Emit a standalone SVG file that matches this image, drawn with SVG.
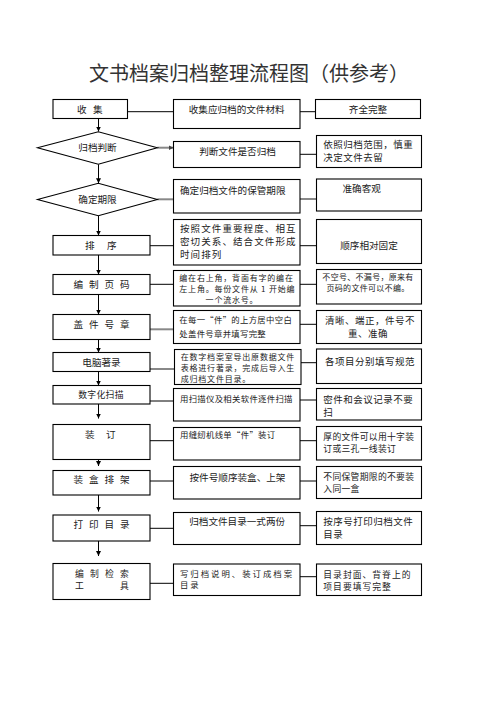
<svg xmlns="http://www.w3.org/2000/svg" width="496" height="702" viewBox="0 0 496 702">
<style>
text{font-family:"Noto Sans CJK SC","Noto Sans",sans-serif;fill:#222}
.t{font-size:20px;fill:#333}
.b{fill:#fff;stroke:#000;stroke-width:1.1}
.c{stroke:#000;stroke-width:1;fill:none}
.g{stroke:#888;stroke-width:2;fill:none}
.s10{font-size:9.6px}
.s95{font-size:9.5px;letter-spacing:0.5px}
.s9{font-size:8.8px;letter-spacing:0.3px}
.s85{font-size:8.4px;letter-spacing:0.3px}
.s8{font-size:8px;letter-spacing:0.8px}
.w1{letter-spacing:1.1px}
.w2{letter-spacing:2px}
.m{text-anchor:middle}
</style>
<defs>
<marker id="ah" viewBox="0 0 6 6" refX="6" refY="3" markerWidth="5" markerHeight="5" markerUnits="userSpaceOnUse" orient="auto">
<path d="M0,0 L6,3 L0,6 z" fill="#000"/>
</marker>
<marker id="ahg" viewBox="0 0 6 6" refX="6" refY="3" markerWidth="5" markerHeight="5" markerUnits="userSpaceOnUse" orient="auto">
<path d="M0,0 L6,3 L0,6 z" fill="#444"/>
</marker>
</defs>
<rect width="496" height="702" fill="#fff"/>
<text class="t" x="89" y="80.5">文书档案归档整理流程图（供参考）</text>

<g id="connectors">
<line class="c" x1="98.5" y1="118.5" x2="98.5" y2="131.5" marker-end="url(#ah)"/>
<line class="c" x1="98.5" y1="164.3" x2="98.5" y2="183.2" marker-end="url(#ah)"/>
<line class="c" x1="98.5" y1="215.7" x2="98.5" y2="235.5" marker-end="url(#ah)"/>
<line class="c" x1="98.5" y1="255" x2="98.5" y2="274.5" marker-end="url(#ah)"/>
<line class="c" x1="98.5" y1="294.5" x2="98.5" y2="314.5" marker-end="url(#ah)"/>
<line class="c" x1="98.5" y1="339.5" x2="98.5" y2="352.5" marker-end="url(#ah)"/>
<line class="c" x1="98.5" y1="371.5" x2="98.5" y2="385.5" marker-end="url(#ah)"/>
<line class="c" x1="98.5" y1="404" x2="98.5" y2="418.5" marker-end="url(#ah)"/>
<line class="c" x1="98.5" y1="459.5" x2="98.5" y2="466" marker-end="url(#ah)"/>
<line class="c" x1="98.5" y1="495" x2="98.5" y2="511.5" marker-end="url(#ah)"/>
<line class="c" x1="98.5" y1="541" x2="98.5" y2="556" marker-end="url(#ah)"/>

<line class="c" x1="127.5" y1="111.7" x2="173.5" y2="111.7"/>
<line class="g" x1="157.3" y1="147.7" x2="173.5" y2="147.7" marker-end="url(#ahg)"/>
<line class="g" x1="157.3" y1="199.3" x2="173.5" y2="199.3"/>
<line class="c" x1="150" y1="245.7" x2="173.5" y2="245.7"/>
<line class="c" x1="150" y1="284.3" x2="173.5" y2="284.3"/>
<line class="g" x1="150" y1="329.3" x2="173.5" y2="329.3"/>
<line class="g" x1="150" y1="369" x2="174.5" y2="369"/>
<line class="c" x1="150" y1="401" x2="173.5" y2="401"/>
<line class="c" x1="150" y1="440.7" x2="173.5" y2="440.7"/>
<line class="c" x1="150" y1="481" x2="173.5" y2="481"/>
<line class="c" x1="150" y1="528.3" x2="173.5" y2="528.3"/>
<line class="c" x1="150" y1="583.3" x2="173.5" y2="583.3"/>

<line class="c" x1="300" y1="111.7" x2="315.5" y2="111.7"/>
<line class="c" x1="300" y1="154.3" x2="316.5" y2="154.3"/>
<line class="g" x1="300" y1="199" x2="316.5" y2="199"/>
<line class="c" x1="300" y1="245.7" x2="316.5" y2="245.7"/>
<line class="c" x1="300" y1="284.3" x2="316.5" y2="284.3"/>
<line class="c" x1="300" y1="324.3" x2="316.5" y2="324.3"/>
<line class="c" x1="301" y1="362.7" x2="316.5" y2="362.7"/>
<line class="c" x1="300" y1="400" x2="316.5" y2="400"/>
<line class="c" x1="300" y1="440.7" x2="316.5" y2="440.7"/>
<line class="c" x1="300" y1="481" x2="316.5" y2="481"/>
<line class="c" x1="300" y1="525.7" x2="316.5" y2="525.7"/>
<line class="c" x1="300" y1="576.7" x2="316.5" y2="576.7"/>
</g>

<!-- left column -->
<g id="n-shouji"><rect class="b" x="53" y="99.5" width="74.5" height="19"/><text class="s10" x="77 93" y="112.8">收集</text></g>
<g id="n-guidang"><polygon class="b" points="37.5,147.8 98.3,131.7 157.3,147.8 98.3,164.3"/><text class="s10 m" x="97.5" y="151.3">归档判断</text></g>
<g id="n-qixian"><polygon class="b" points="37.5,199.5 98.3,183.3 157.3,199.5 98.3,215.7"/><text class="s10 m" x="97.5" y="203">确定期限</text></g>
<g id="n-paixu"><rect class="b" x="53" y="235.5" width="97" height="19.5"/><text class="s10" x="85 107" y="248.8">排序</text></g>
<g id="n-yema"><rect class="b" x="53" y="274.5" width="97" height="20"/><text class="s10" x="73.5 89 104.5 120" y="288">编制页码</text></g>
<g id="n-haozhang"><rect class="b" x="53" y="314.5" width="97" height="25"/><text class="s10" x="73.5 89 104.5 120" y="327.8">盖件号章</text></g>
<g id="n-zhulu"><rect class="b" x="53" y="352.5" width="97" height="19"/><text class="s10 m" x="101.5" y="366">电脑著录</text></g>
<g id="n-saomiao"><rect class="b" x="53" y="385.5" width="97" height="18.5"/><text class="s9 m" x="101" y="397.5">数字化扫描</text></g>
<g id="n-zhuangding"><rect class="b" x="53" y="424.5" width="97" height="35"/><text class="s10" x="85 106" y="437.7">装订</text></g>
<g id="n-zhuanghe"><rect class="b" x="53" y="470.5" width="97" height="24.5"/><text class="s10" x="73.5 89 104.5 120" y="483">装盒排架</text></g>
<g id="n-dayin"><rect class="b" x="53" y="515" width="97" height="26"/><text class="s10" x="73.5 89 104.5 120" y="527.8">打印目录</text></g>
<g id="n-jiansuo"><rect class="b" x="53" y="563.5" width="97" height="36"/><text class="s9" x="75 90 105 120" y="576.5">编制检索</text><text class="s9" x="75 120" y="588.5">工具</text></g>

<!-- middle column -->
<g id="m1"><rect class="b" x="173.5" y="99.5" width="126.5" height="29"/><text class="s10 m" x="236.7" y="112.7">收集应归档的文件材料</text></g>
<g id="m2"><rect class="b" x="173.5" y="141.5" width="126.5" height="26"/><text class="s10 m" x="237.5" y="155.3">判断文件是否归档</text></g>
<g id="m3"><rect class="b" x="173.5" y="179.5" width="126.5" height="33.5"/><text class="s10" x="180" y="193.5">确定归档文件的保管期限</text></g>
<g id="m4"><rect class="b" x="173.5" y="219.5" width="126.5" height="45.5"/><text class="s95 w1" x="180" y="232.3">按照文件重要程度、相互</text><text class="s95 w1" x="180" y="245.3">密切关系、结合文件形成</text><text class="s95 w1" x="180" y="258.3">时间排列</text></g>
<g id="m5"><rect class="b" x="173.5" y="270.5" width="126.5" height="35.5"/><text class="s8" x="179.3" y="281">编在右上角，背面有字的编在</text><text class="s8" x="179.3" y="292">左上角。每份文件从 1 开始编</text><text class="s8 m" x="232" y="303">一个流水号。</text></g>
<g id="m6"><rect class="b" x="173.5" y="310.5" width="126.5" height="33"/><text class="s85" x="179.3" y="323.3">在每一“件”的上方居中空白</text><text class="s85" x="179.3" y="337.3">处盖件号章并填写完整</text></g>
<g id="m7"><rect class="b" x="174.5" y="349.5" width="126.5" height="35"/><text class="s8" x="180.7" y="360.3">在数字档案室导出原数据文件</text><text class="s8" x="180.7" y="371">表格进行著录，完成后导入生</text><text class="s8" x="180.7" y="381.7">成归档文件目录。</text></g>
<g id="m8"><rect class="b" x="173.5" y="388.5" width="126.5" height="32.5"/><text class="s85" x="180" y="401.5">用扫描仪及相关软件逐件扫描</text></g>
<g id="m9"><rect class="b" x="173.5" y="427.5" width="126.5" height="32.5"/><text class="s85" x="180" y="438.3">用缝纫机线单“件”装订</text></g>
<g id="m10"><rect class="b" x="173.5" y="466.5" width="126.5" height="32.5"/><text class="s10 m" x="237.5" y="480.8">按件号顺序装盒、上架</text></g>
<g id="m11"><rect class="b" x="173.5" y="512.5" width="126.5" height="32"/><text class="s10 m" x="237.2" y="525.2">归档文件目录一式两份</text></g>
<g id="m12"><rect class="b" x="173.5" y="564" width="126.5" height="31.5"/><text class="s85 w2" x="180" y="576.5">写归档说明、装订成档案</text><text class="s85 w2" x="180" y="588">目录</text></g>

<!-- right column -->
<g id="r1"><rect class="b" x="315.5" y="99.5" width="105" height="19"/><text class="s10 m" x="368" y="112.7">齐全完整</text></g>
<g id="r2"><rect class="b" x="316.5" y="135.5" width="105" height="32"/><text class="s95" x="323.3" y="147.5">依照归档范围，慎重</text><text class="s95" x="323.3" y="160.5">决定文件去留</text></g>
<g id="r3"><rect class="b" x="316.5" y="179" width="105" height="32"/><text class="s10 m" x="361.7" y="191.8">准确客观</text></g>
<g id="r4"><rect class="b" x="316.5" y="219.5" width="105" height="44"/><text class="s10 m" x="369" y="249.2">顺序相对固定</text></g>
<g id="r5"><rect class="b" x="316.5" y="269.5" width="105" height="34.5"/><text class="m" x="368" y="279.5" font-size="8" letter-spacing="0.3">不空号、不漏号，原来有</text><text class="m" x="368" y="290.5" font-size="8" letter-spacing="0.3">页码的文件可以不编。</text></g>
<g id="r6"><rect class="b" x="316.5" y="310.5" width="105" height="33"/><text class="s95" x="325" y="324">清晰、端正，件号不</text><text class="s95 m" x="368" y="337">重、准确</text></g>
<g id="r7"><rect class="b" x="316.5" y="349" width="105" height="34.5"/><text class="s95" x="325" y="364.5">各项目分别填写规范</text></g>
<g id="r8"><rect class="b" x="316.5" y="388.5" width="105" height="31.5"/><text class="s95" x="323.3" y="402.5">密件和会议记录不要</text><text class="s95" x="323.3" y="416.2">扫</text></g>
<g id="r9"><rect class="b" x="316.5" y="426.5" width="105" height="33.5"/><text class="s9" x="323.3" y="440.3">厚的文件可以用十字装</text><text class="s9" x="323.3" y="452.3">订或三孔一线装订</text></g>
<g id="r10"><rect class="b" x="316.5" y="466.5" width="105" height="32"/><text class="s9" x="323.3" y="479.5">不同保管期限的不要装</text><text class="s9" x="323.3" y="491.5">入同一盒</text></g>
<g id="r11"><rect class="b" x="316.5" y="511.5" width="105" height="33"/><text class="s95" x="323.3" y="525">按序号打印归档文件</text><text class="s95" x="323.3" y="538">目录</text></g>
<g id="r12"><rect class="b" x="316.5" y="564" width="105" height="31.5"/><text class="s9" x="323.3" y="577.5" style="letter-spacing:1px">目录封面、背脊上的</text><text class="s9" x="323.3" y="589.5" style="letter-spacing:1px">项目要填写完整</text></g>
</svg>
